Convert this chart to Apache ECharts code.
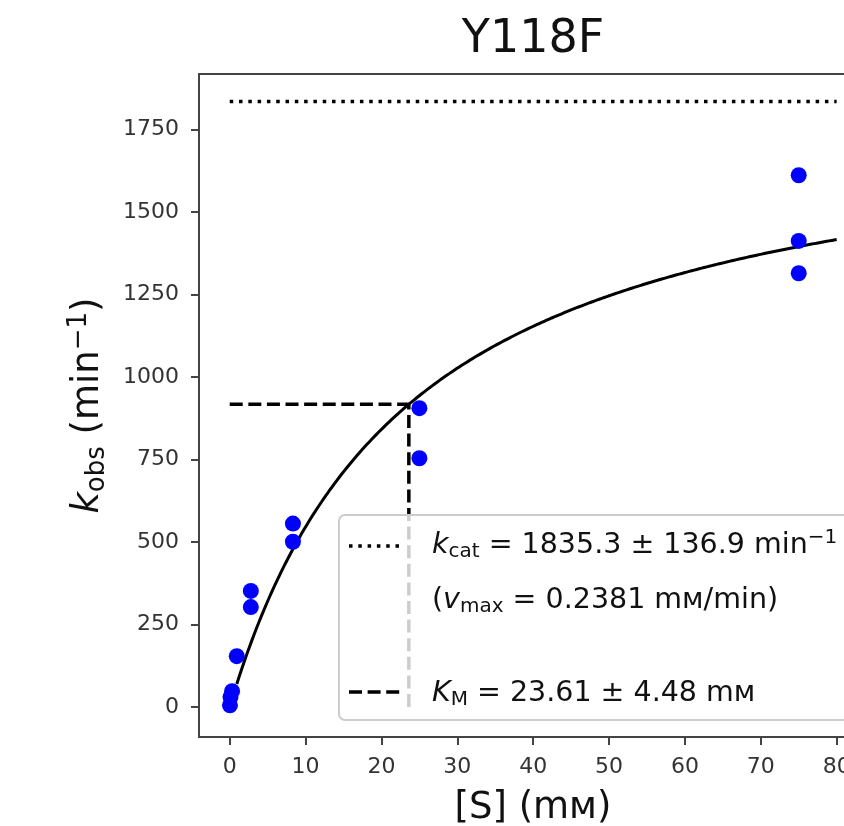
<!DOCTYPE html>
<html>
<head>
<meta charset="utf-8">
<script src="https://cdn.jsdelivr.net/npm/echarts@6/dist/echarts.min.js"></script>
<style>
  html, body { margin: 0; padding: 0; background: #ffffff; overflow: hidden; }
  /* the axes run past the right edge of the page */
  #chart { width: 900px; height: 826px; }
</style>
</head>
<body>
<div id="chart"></div>
<script>
// Substrate concentrations (mM) and observed rates (min^-1), Y118F variant
const substrateMM = [0.03, 0.1, 0.31, 0.93, 2.78, 2.78, 8.33, 8.33, 25, 25, 75, 75, 75];
const kObs        = [5, 30, 48, 154, 303, 352, 501, 556, 906, 754, 1612, 1413, 1315];

// Tick values
const xTicks = [0, 10, 20, 30, 40, 50, 60, 70, 80];
const yTicks = [0, 250, 500, 750, 1000, 1250, 1500, 1750];

// Michaelis-Menten fit parameters
const KCAT = 1835.3;
const KCAT_ERR = 136.9;
const KM = 23.61;
const KM_ERR = 4.48;
const VMAX = 0.2381;
const FIT_RANGE = [0.93, 80];

const FONT = "'DejaVu Sans', sans-serif";
const AXIS_COLOR = '#444444';

const points = substrateMM.map((s, i) => [s, kObs[i]]);

// Fitted curve k = kcat * S / (KM + S)
const fitCurve = [];
const FIT_STEPS = 240;
for (let i = 0; i <= FIT_STEPS; i++) {
  const s = FIT_RANGE[0] + (FIT_RANGE[1] - FIT_RANGE[0]) * i / FIT_STEPS;
  fitCurve.push([s, KCAT * s / (KM + s)]);
}

const kcatLine = [[0, KCAT], [FIT_RANGE[1], KCAT]];
const halfLine = [[0, KCAT / 2], [KM, KCAT / 2]];
const kmLine = [[KM, 0], [KM, KCAT / 2]];

const DOTTED = [3.5, 5.8];
const DASHED = [13, 5.6];

// Rich text styles for math-like labels
function mathRich(size, lineH) {
  const small = Math.round(size * 0.7);
  const base = lineH / 2 + 0.346 * size;          // main baseline inside the line box
  const subCenter = base + size * 0.14 - 0.346 * small;
  const supCenter = base - size * 0.6 - 0.346 * small;
  return {
    it:  { fontFamily: FONT, fontSize: size, fontStyle: 'italic', color: '#111', lineHeight: lineH },
    sub: { fontFamily: FONT, fontSize: small, color: '#111', verticalAlign: 'bottom', lineHeight: 2 * (lineH - subCenter) },
    sup: { fontFamily: FONT, fontSize: small, color: '#111', verticalAlign: 'top', lineHeight: Math.max(1, 2 * supCenter) }
  };
}

const LEG_SIZE = 28.5, LEG_LH = 34;
const legRich = mathRich(LEG_SIZE, LEG_LH);
function legendText(text, x, baseline) {
  return {
    type: 'text', z: 110, x: x, y: baseline - (LEG_LH / 2 + 0.346 * LEG_SIZE),
    style: {
      text: text, fontFamily: FONT, fontSize: LEG_SIZE, lineHeight: LEG_LH,
      fill: '#111', align: 'left', verticalAlign: 'top', rich: legRich
    }
  };
}

const plainNumber = v => String(v);

const chart = echarts.init(document.getElementById('chart'), null, { renderer: 'canvas' });

chart.setOption({
  backgroundColor: '#ffffff',
  animation: false,
  grid: {
    left: 199, top: 74, width: 668, height: 663,
    outerBoundsMode: 'none',
    show: true, borderColor: AXIS_COLOR, borderWidth: 2, backgroundColor: 'transparent'
  },
  xAxis: {
    type: 'value', min: -4.05, max: 84,
    axisLine: { show: true, onZero: false, lineStyle: { color: AXIS_COLOR, width: 2 } },
    axisTick: { show: true, length: 8, customValues: xTicks, lineStyle: { color: AXIS_COLOR, width: 2 } },
    axisLabel: { customValues: xTicks, formatter: plainNumber, fontFamily: FONT, fontSize: 22, color: '#333', margin: 19 },
    splitLine: { show: false },
    name: '[S] (mᴍ)', nameLocation: 'middle', nameGap: 53,
    nameTextStyle: { fontFamily: FONT, fontSize: 37, color: '#111' }
  },
  yAxis: {
    type: 'value', min: -91, max: 1919,
    axisLine: { show: true, onZero: false, lineStyle: { color: AXIS_COLOR, width: 2 } },
    axisTick: { show: true, length: 8, customValues: yTicks, lineStyle: { color: AXIS_COLOR, width: 2 } },
    axisLabel: { customValues: yTicks, formatter: plainNumber, fontFamily: FONT, fontSize: 22, color: '#333', margin: 20 },
    splitLine: { show: false },
    name: '{it|k}{sub|obs} (min{sup|−1})', nameLocation: 'middle', nameRotate: 90, nameGap: 89,
    nameTextStyle: { fontFamily: FONT, fontSize: 37, color: '#111', lineHeight: 44, rich: mathRich(37, 44) }
  },
  series: [
    {
      name: 'kcat', type: 'line', data: kcatLine, showSymbol: false, z: 3,
      lineStyle: { color: '#000', width: 3.5, type: DOTTED }
    },
    {
      name: 'fit', type: 'line', data: fitCurve, showSymbol: false, z: 4,
      lineStyle: { color: '#000', width: 3 }
    },
    {
      name: 'half', type: 'line', data: halfLine, showSymbol: false, z: 3,
      lineStyle: { color: '#000', width: 3.5, type: DASHED }
    },
    {
      name: 'KM', type: 'line', data: kmLine, showSymbol: false, z: 3,
      lineStyle: { color: '#000', width: 3.5, type: DASHED }
    },
    {
      name: 'data', type: 'scatter', data: points, symbol: 'circle', symbolSize: 16, z: 5,
      itemStyle: { color: '#0000ff', opacity: 1 }
    }
  ],
  graphic: [
    {
      type: 'text', z: 110, x: 533, y: 40,
      style: { text: 'Y118F', fontFamily: FONT, fontSize: 46, fill: '#111', align: 'center', verticalAlign: 'middle' }
    },
    {
      type: 'rect', z: 100,
      shape: { x: 339, y: 515, width: 600, height: 205, r: 6 },
      style: { fill: 'rgba(255,255,255,0.8)', stroke: '#cccccc', lineWidth: 2 }
    },
    {
      type: 'line', z: 110,
      shape: { x1: 349, y1: 546, x2: 402, y2: 546 },
      style: { stroke: '#000', lineWidth: 3.5, lineDash: DOTTED }
    },
    {
      type: 'line', z: 110,
      shape: { x1: 349, y1: 692, x2: 402, y2: 692 },
      style: { stroke: '#000', lineWidth: 3.5, lineDash: DASHED }
    },
    legendText('{it|k}{sub|cat} = ' + KCAT.toFixed(1) + ' ± ' + KCAT_ERR.toFixed(1) + ' min{sup|−1}', 432, 555),
    legendText('({it|v}{sub|max} = ' + VMAX.toFixed(4) + ' mᴍ/min)', 432, 610),
    legendText('{it|K}{sub|M} = ' + KM.toFixed(2) + ' ± ' + KM_ERR.toFixed(2) + ' mᴍ', 432, 703)
  ]
});
</script>
</body>
</html>
